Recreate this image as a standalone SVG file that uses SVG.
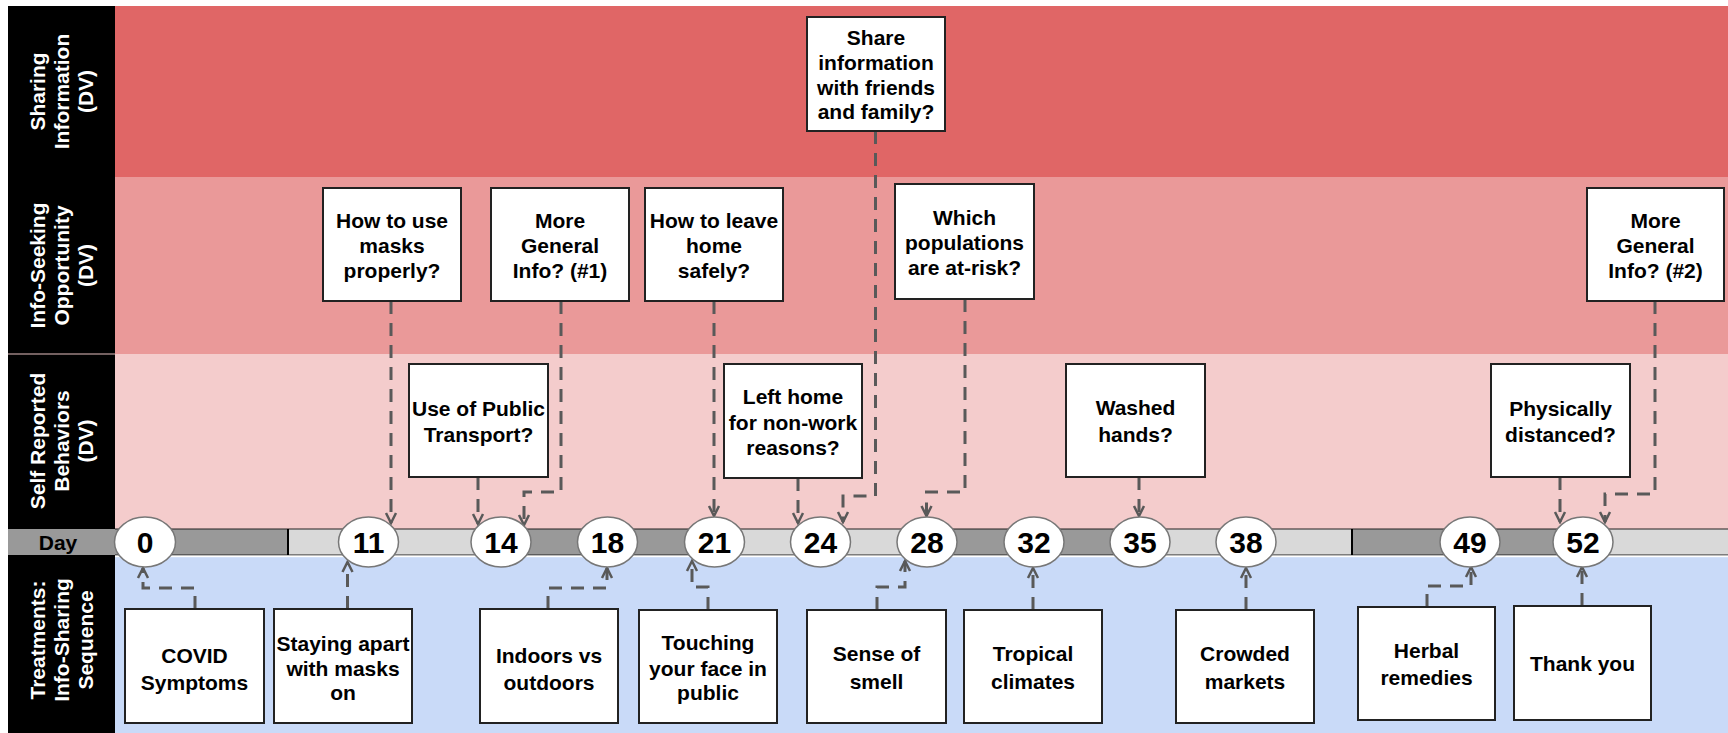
<svg xmlns="http://www.w3.org/2000/svg" width="1728" height="733" viewBox="0 0 1728 733">
<style>
.lbl{font-family:"Liberation Sans",Arial,sans-serif;font-weight:bold;font-size:21px;fill:#fff;text-anchor:middle}
.box rect{fill:#fff;stroke:#222;stroke-width:2}
.box text{font-family:"Liberation Sans",Arial,sans-serif;font-weight:bold;font-size:21px;fill:#000;text-anchor:middle}
.day ellipse{fill:#fff;stroke:#777;stroke-width:1.5}
.day text{font-family:"Liberation Sans",Arial,sans-serif;font-weight:bold;font-size:30px;fill:#000;text-anchor:middle}
.conn path{fill:none;stroke:#595959;stroke-width:3;stroke-dasharray:13 9;marker-end:url(#arr)}
</style>
<defs>
<marker id="arr" viewBox="-12 -7 14 14" refX="0" refY="0" markerWidth="14" markerHeight="14" markerUnits="userSpaceOnUse" orient="auto">
<path d="M-10,-5 L0,0 L-10,5" fill="none" stroke="#595959" stroke-width="2.5" stroke-dasharray="none"/>
</marker>
</defs>
<rect width="1728" height="733" fill="#fff"/>
<g id="bands">
<rect x="115" y="6" width="1613" height="171" fill="#e06666"/>
<rect x="115" y="177" width="1613" height="177" fill="#ea9999"/>
<rect x="115" y="354" width="1613" height="175" fill="#f4cccc"/>
<rect x="115" y="557" width="1613" height="176" fill="#c9daf8"/>
</g>
<g id="labels">
<rect x="8" y="6" width="107" height="523" fill="#000"/>
<rect x="8" y="555" width="107" height="178" fill="#000"/>
<line x1="8" y1="354" x2="115" y2="354" stroke="#9a8080" stroke-width="1.5"/>
<rect x="8" y="529" width="107" height="26" fill="#999"/>
<text x="58" y="550" font-family="Liberation Sans, Arial, sans-serif" font-weight="bold" font-size="21" text-anchor="middle" fill="#000">Day</text>
<g class="lbl" transform="translate(61.5,91.5) rotate(-90)"><text x="0" y="-17">Sharing</text><text x="0" y="7.5">Information</text><text x="0" y="31">(DV)</text></g>
<g class="lbl" transform="translate(61.5,265.5) rotate(-90)"><text x="0" y="-17">Info-Seeking</text><text x="0" y="7.5">Opportunity</text><text x="0" y="31">(DV)</text></g>
<g class="lbl" transform="translate(61.5,441) rotate(-90)"><text x="0" y="-17">Self Reported</text><text x="0" y="7.5">Behaviors</text><text x="0" y="31">(DV)</text></g>
<g class="lbl" transform="translate(61.5,640) rotate(-90)"><text x="0" y="-17">Treatments:</text><text x="0" y="7.5">Info-Sharing</text><text x="0" y="31">Sequence</text></g>
</g>
<g id="daybar">
<rect x="115" y="529" width="1613" height="26" fill="#d9d9d9"/>
<rect x="115" y="529" width="173" height="26" fill="#999"/>
<rect x="500" y="529" width="214" height="26" fill="#999"/>
<rect x="927" y="529" width="213" height="26" fill="#999"/>
<rect x="1352" y="529" width="231" height="26" fill="#999"/>
<line x1="115" y1="529" x2="1728" y2="529" stroke="#222" stroke-width="1.2"/>
<line x1="115" y1="555" x2="1728" y2="555" stroke="#222" stroke-width="1.2"/>
<line x1="288" y1="529" x2="288" y2="555" stroke="#000" stroke-width="2"/>
<line x1="1352" y1="529" x2="1352" y2="555" stroke="#000" stroke-width="2"/>
<rect x="115" y="555.6" width="1613" height="1.6" fill="#fff"/>
</g>
<g id="connectors" class="conn">
<path d="M391,301 V523"/>
<path d="M561,301 V492 H524 V525"/>
<path d="M478,477 V524"/>
<path d="M714,301 V516"/>
<path d="M798,478 V523"/>
<path d="M875.5,131 V496 H843 V522"/>
<path d="M965,299 V492 H926.5 V516"/>
<path d="M1139,477 V516"/>
<path d="M1560,477 V522"/>
<path d="M1655,301 V494 H1605 V522"/>
<path d="M195,609 V588 H143 V568"/>
<path d="M347.5,609 V562"/>
<path d="M548,609 V588 H607 V568"/>
<path d="M708,610 V587 H692 V561"/>
<path d="M877,610 V587 H905 V561"/>
<path d="M1033,610 V568"/>
<path d="M1246,610 V568"/>
<path d="M1427,607 V586 H1471 V567"/>
<path d="M1582,606 V567"/>
</g>
<g id="d0" class="day"><ellipse cx="145" cy="542" rx="30.5" ry="25"/><text x="145" y="553">0</text></g>
<g id="d11" class="day"><ellipse cx="368.5" cy="542" rx="30" ry="25"/><text x="368.5" y="553">11</text></g>
<g id="d14" class="day"><ellipse cx="501" cy="542" rx="30" ry="25"/><text x="501" y="553">14</text></g>
<g id="d18" class="day"><ellipse cx="607.5" cy="542" rx="30" ry="25"/><text x="607.5" y="553">18</text></g>
<g id="d21" class="day"><ellipse cx="714.5" cy="542" rx="30" ry="25"/><text x="714.5" y="553">21</text></g>
<g id="d24" class="day"><ellipse cx="820.5" cy="542" rx="30" ry="25"/><text x="820.5" y="553">24</text></g>
<g id="d28" class="day"><ellipse cx="927" cy="542" rx="30" ry="25"/><text x="927" y="553">28</text></g>
<g id="d32" class="day"><ellipse cx="1034" cy="542" rx="30" ry="25"/><text x="1034" y="553">32</text></g>
<g id="d35" class="day"><ellipse cx="1140" cy="542" rx="30" ry="25"/><text x="1140" y="553">35</text></g>
<g id="d38" class="day"><ellipse cx="1246" cy="542" rx="30" ry="25"/><text x="1246" y="553">38</text></g>
<g id="d49" class="day"><ellipse cx="1470" cy="542" rx="30" ry="25"/><text x="1470" y="553">49</text></g>
<g id="d52" class="day"><ellipse cx="1583" cy="542" rx="30" ry="25"/><text x="1583" y="553">52</text></g>
<g id="share" class="box"><rect x="807" y="17" width="138" height="114"/><text x="876" y="44.5">Share</text><text x="876" y="70">information</text><text x="876" y="94.5">with friends</text><text x="876" y="119">and family?</text></g>
<g id="masks" class="box"><rect x="323" y="188" width="138" height="113"/><text x="392" y="227.5">How to use</text><text x="392" y="252.5">masks</text><text x="392" y="277.5">properly?</text></g>
<g id="general1" class="box"><rect x="491" y="188" width="138" height="113"/><text x="560" y="227.5">More</text><text x="560" y="252.5">General</text><text x="560" y="277.5">Info? (#1)</text></g>
<g id="leave" class="box"><rect x="645" y="188" width="138" height="113"/><text x="714" y="227.5">How to leave</text><text x="714" y="252.5">home</text><text x="714" y="277.5">safely?</text></g>
<g id="populations" class="box"><rect x="895" y="184" width="139" height="115"/><text x="964.5" y="224.5">Which</text><text x="964.5" y="250">populations</text><text x="964.5" y="274.5">are at-risk?</text></g>
<g id="general2" class="box"><rect x="1587" y="188" width="137" height="113"/><text x="1655.5" y="227.5">More</text><text x="1655.5" y="252.5">General</text><text x="1655.5" y="277.5">Info? (#2)</text></g>
<g id="transport" class="box"><rect x="409" y="364" width="139" height="113"/><text x="478.5" y="415.5">Use of Public</text><text x="478.5" y="442">Transport?</text></g>
<g id="lefthome" class="box"><rect x="724" y="364" width="138" height="114"/><text x="793" y="403.5">Left home</text><text x="793" y="430">for non-work</text><text x="793" y="454.5">reasons?</text></g>
<g id="washed" class="box"><rect x="1066" y="364" width="139" height="113"/><text x="1135.5" y="414.5">Washed</text><text x="1135.5" y="442">hands?</text></g>
<g id="distanced" class="box"><rect x="1491" y="364" width="139" height="113"/><text x="1560.5" y="415.5">Physically</text><text x="1560.5" y="442">distanced?</text></g>
<g id="covid" class="box"><rect x="125" y="609" width="139" height="114"/><text x="194.5" y="662.5">COVID</text><text x="194.5" y="689.5">Symptoms</text></g>
<g id="staying" class="box"><rect x="274" y="609" width="138" height="114"/><text x="343" y="650.5">Staying apart</text><text x="343" y="675.5">with masks</text><text x="343" y="699.5">on</text></g>
<g id="indoors" class="box"><rect x="480" y="609" width="138" height="114"/><text x="549" y="662.5">Indoors vs</text><text x="549" y="689.5">outdoors</text></g>
<g id="touching" class="box"><rect x="639" y="610" width="138" height="113"/><text x="708" y="649.5">Touching</text><text x="708" y="675.5">your face in</text><text x="708" y="699.5">public</text></g>
<g id="smell" class="box"><rect x="807" y="610" width="139" height="113"/><text x="876.5" y="660.5">Sense of</text><text x="876.5" y="688.5">smell</text></g>
<g id="tropical" class="box"><rect x="964" y="610" width="138" height="113"/><text x="1033" y="660.5">Tropical</text><text x="1033" y="688.5">climates</text></g>
<g id="crowded" class="box"><rect x="1176" y="610" width="138" height="113"/><text x="1245" y="660.5">Crowded</text><text x="1245" y="688.5">markets</text></g>
<g id="herbal" class="box"><rect x="1358" y="607" width="137" height="113"/><text x="1426.5" y="657.5">Herbal</text><text x="1426.5" y="684.5">remedies</text></g>
<g id="thankyou" class="box"><rect x="1514" y="606" width="137" height="114"/><text x="1582.5" y="671">Thank you</text></g>
</svg>
